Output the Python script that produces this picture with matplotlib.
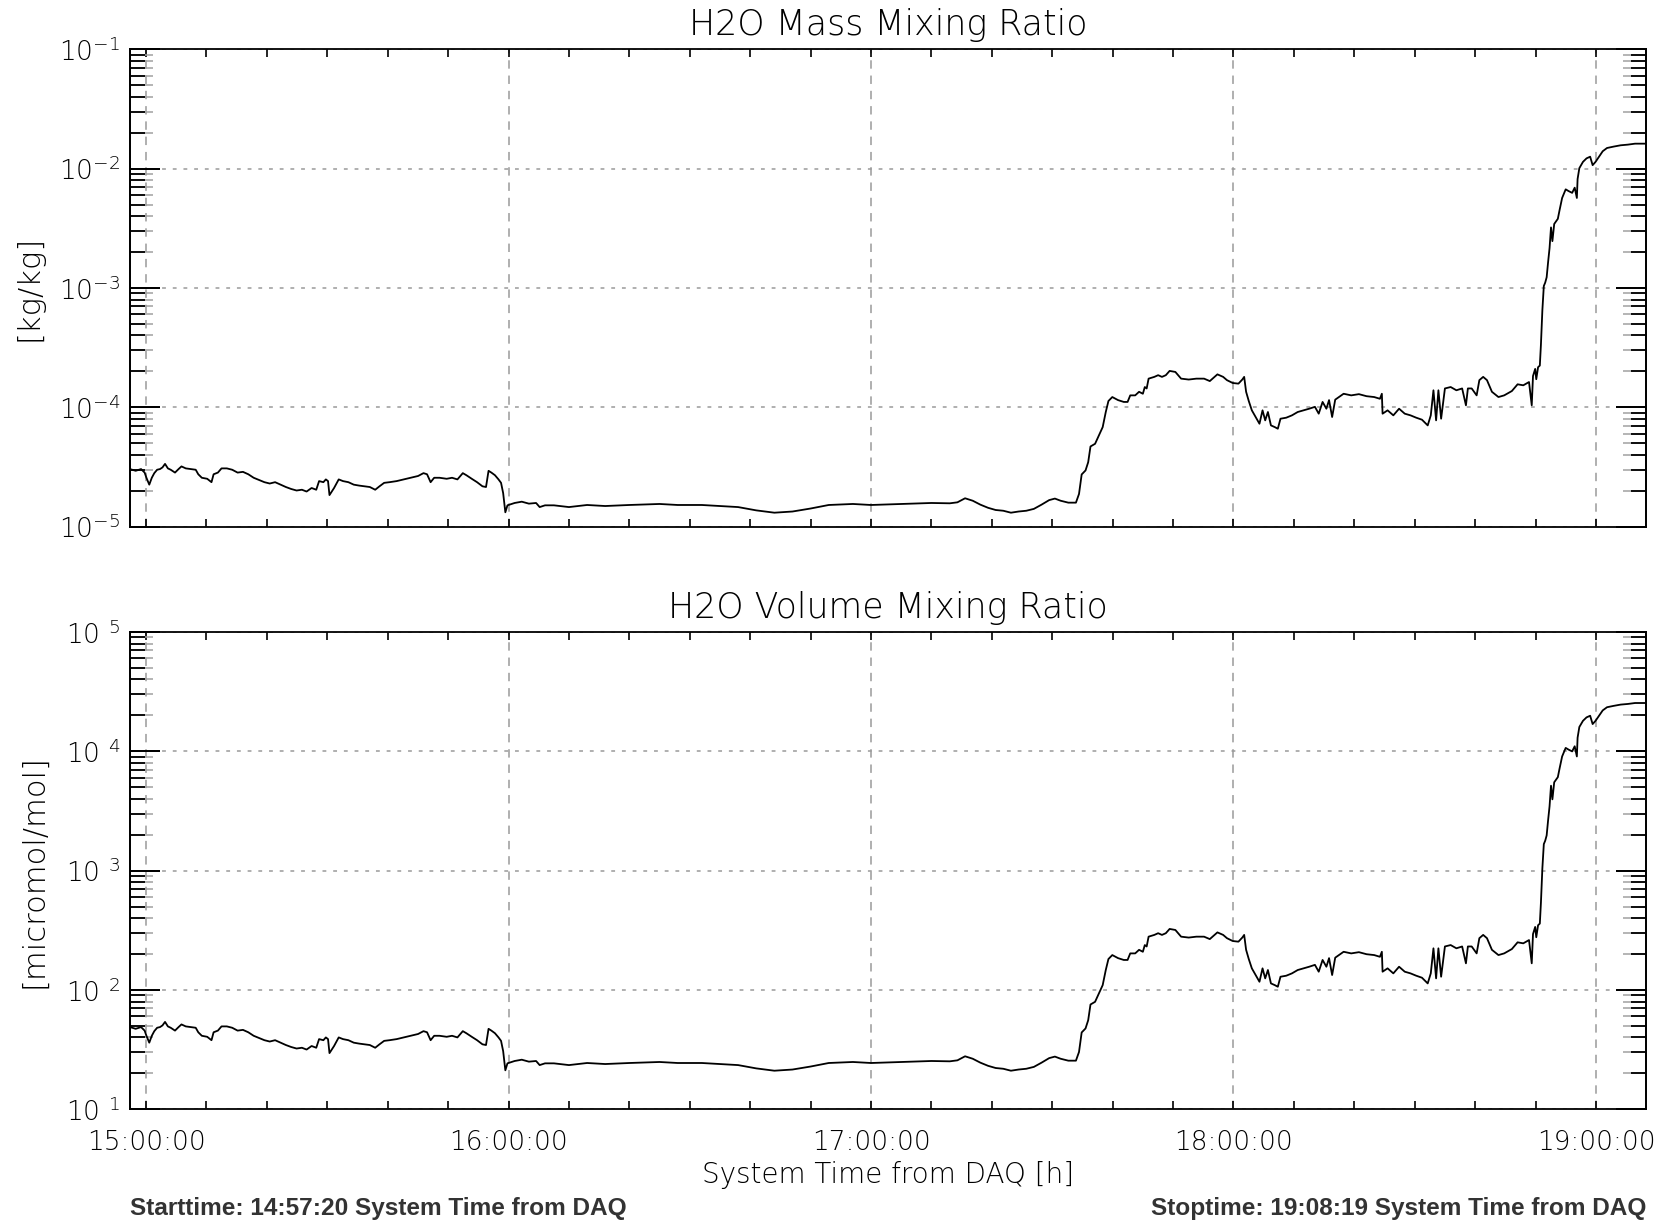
import matplotlib
matplotlib.use('Agg')
import matplotlib.pyplot as plt
from matplotlib.ticker import FixedLocator, FixedFormatter, MultipleLocator, LogLocator, NullFormatter

plt.rcParams['font.family'] = 'DejaVu Sans'
plt.rcParams['font.weight'] = 200
plt.rcParams['axes.titleweight'] = 200
plt.rcParams['axes.labelweight'] = 200
plt.rcParams['mathtext.fontset'] = 'custom'
plt.rcParams['mathtext.rm'] = 'DejaVu Sans:ultralight'

# time in minutes after 15:00:00
t_min = [
    -2.67, -1.72, -0.83, -0.24, 0.06, 0.53, 0.95, 1.36, 1.83, 2.31,
    2.72, 3.14, 3.61, 4.08, 4.79, 5.38, 5.86, 6.57, 7.46, 8.22,
    8.64, 9.23, 10.12, 10.83, 11.18, 11.89, 12.49, 13.37, 14.26, 15.15,
    16.04, 16.92, 17.81, 18.70, 19.59, 20.47, 21.36, 22.25, 23.14, 24.02,
    24.91, 25.80, 26.57, 27.40, 28.17, 28.64, 29.35, 29.76, 30.12, 30.36,
    31.12, 31.89, 32.60, 33.49, 34.38, 35.27, 36.15, 37.04, 37.93, 38.64,
    39.41, 40.30, 41.48, 42.66, 43.85, 45.03, 45.92, 46.51, 47.10, 47.69,
    48.58, 49.76, 50.65, 51.54, 52.43, 53.02, 53.91, 54.79, 55.68, 56.27,
    56.69, 57.16, 57.75, 58.34, 58.76, 59.11, 59.47, 59.82, 61.01, 62.19,
    63.37, 64.56, 65.15, 66.04, 67.51,
    70, 73, 76, 80, 85, 88, 92, 95, 98, 101,
    104, 107, 110, 113, 117, 120, 125, 130,
    133.04, 134.30, 135.57, 136.84, 138.10, 139.37, 140.63, 141.90, 143.16, 144.43,
    145.70, 146.96, 148.23, 149.49, 150.44, 151.39, 152.66, 153.92, 154.43, 154.87,
    155.51, 155.95, 156.33, 157.09, 157.85, 158.35, 158.86, 159.30, 159.94, 160.89,
    161.84, 162.47, 162.91, 163.73, 164.37, 165.00, 165.32, 165.63, 165.95, 166.90,
    167.53, 168.16, 168.80, 169.43, 170.38, 171.33, 172.59, 173.86, 175.13, 176.08,
    177.34, 178.29, 178.92, 179.87, 180.82, 181.46, 181.77, 182.09, 182.53, 183.04,
    183.67, 184.30, 184.81, 185.25, 185.70, 186.20, 186.84, 187.34, 187.78, 188.73,
    189.68, 190.63, 191.58, 192.53, 193.48, 194.11, 194.75, 195.38, 195.82, 196.33,
    196.84, 198.23, 199.49, 200.76, 202.03, 203.29, 204.24, 204.56, 204.68, 205.51,
    206.46, 207.41, 208.35, 209.30, 210.25, 211.20, 212.15, 212.66, 213.10, 213.54,
    213.92, 214.37, 215.00, 215.95, 216.90, 217.85, 218.48, 218.80, 219.43, 220.25,
    220.70, 221.33, 221.96, 222.78, 223.86, 224.81, 226.08, 227.03, 227.97, 228.92,
    229.37, 229.56,
    229.58, 229.94, 230.12, 230.42, 230.71, 230.89, 231.13, 231.37, 231.60, 231.84,
    232.08, 232.32, 232.56, 232.79, 233.09, 233.69, 233.98, 234.40, 234.99, 235.47,
    236.06, 236.48, 236.84, 236.96, 237.25, 237.85, 238.44, 239.04, 239.45, 239.93,
    240.52, 241.12, 241.83, 242.90, 244.09, 245.28, 246.47, 247.36, 248.25,
]

# H2O mass mixing ratio [kg/kg]
h2o_mmr = [
    3.04e-5, 2.94e-5, 3.04e-5, 2.84e-5, 2.57e-5, 2.25e-5, 2.57e-5, 2.81e-5, 3.00e-5, 3.04e-5,
    3.14e-5, 3.36e-5, 3.08e-5, 3.00e-5, 2.84e-5, 3.04e-5, 3.20e-5, 3.08e-5, 3.04e-5, 3.00e-5,
    2.75e-5, 2.57e-5, 2.52e-5, 2.36e-5, 2.75e-5, 2.84e-5, 3.08e-5, 3.08e-5, 3.00e-5, 2.84e-5,
    2.88e-5, 2.75e-5, 2.57e-5, 2.46e-5, 2.36e-5, 2.30e-5, 2.36e-5, 2.25e-5, 2.15e-5, 2.07e-5,
    2.01e-5, 2.04e-5, 1.97e-5, 2.11e-5, 2.04e-5, 2.41e-5, 2.36e-5, 2.49e-5, 2.41e-5, 1.84e-5,
    2.11e-5, 2.49e-5, 2.41e-5, 2.36e-5, 2.25e-5, 2.21e-5, 2.18e-5, 2.15e-5, 2.04e-5, 2.18e-5,
    2.33e-5, 2.36e-5, 2.41e-5, 2.49e-5, 2.57e-5, 2.66e-5, 2.81e-5, 2.75e-5, 2.36e-5, 2.57e-5,
    2.57e-5, 2.52e-5, 2.57e-5, 2.49e-5, 2.81e-5, 2.70e-5, 2.52e-5, 2.36e-5, 2.18e-5, 2.15e-5,
    2.94e-5, 2.84e-5, 2.70e-5, 2.49e-5, 2.33e-5, 1.91e-5, 1.32e-5, 1.51e-5, 1.58e-5, 1.62e-5,
    1.56e-5, 1.58e-5, 1.46e-5, 1.51e-5, 1.51e-5,
    1.46e-5, 1.52e-5, 1.49e-5, 1.52e-5, 1.55e-5, 1.52e-5, 1.52e-5, 1.49e-5, 1.46e-5, 1.37e-5,
    1.31e-5, 1.34e-5, 1.42e-5, 1.52e-5, 1.55e-5, 1.52e-5, 1.55e-5, 1.58e-5,
    1.57e-5, 1.60e-5, 1.73e-5, 1.65e-5, 1.53e-5, 1.44e-5, 1.38e-5, 1.36e-5, 1.31e-5, 1.34e-5,
    1.36e-5, 1.41e-5, 1.53e-5, 1.67e-5, 1.72e-5, 1.65e-5, 1.59e-5, 1.59e-5, 1.88e-5, 2.74e-5,
    2.96e-5, 3.47e-5, 4.70e-5, 4.95e-5, 6.01e-5, 6.83e-5, 9.14e-5, 1.13e-4, 1.22e-4, 1.15e-4,
    1.11e-4, 1.11e-4, 1.26e-4, 1.26e-4, 1.35e-4, 1.30e-4, 1.48e-4, 1.44e-4, 1.74e-4, 1.80e-4,
    1.86e-4, 1.80e-4, 1.86e-4, 2.02e-4, 1.98e-4, 1.74e-4, 1.71e-4, 1.74e-4, 1.74e-4, 1.66e-4,
    1.89e-4, 1.80e-4, 1.69e-4, 1.60e-4, 1.58e-4, 1.71e-4, 1.80e-4, 1.35e-4, 1.13e-4, 9.44e-5,
    8.30e-5, 7.29e-5, 9.44e-5, 7.78e-5, 9.14e-5, 7.06e-5, 6.83e-5, 6.62e-5, 8.03e-5, 8.19e-5,
    8.57e-5, 9.14e-5, 9.44e-5, 9.74e-5, 1.01e-4, 8.85e-5, 1.11e-4, 9.74e-5, 1.15e-4, 8.30e-5,
    1.16e-4, 1.30e-4, 1.26e-4, 1.29e-4, 1.24e-4, 1.22e-4, 1.18e-4, 1.30e-4, 8.85e-5, 9.44e-5,
    8.57e-5, 9.74e-5, 8.85e-5, 8.57e-5, 8.19e-5, 7.88e-5, 7.06e-5, 8.57e-5, 1.39e-4, 7.78e-5,
    1.39e-4, 8.03e-5, 1.44e-4, 1.48e-4, 1.39e-4, 1.44e-4, 1.04e-4, 1.44e-4, 1.44e-4, 1.26e-4,
    1.69e-4, 1.80e-4, 1.69e-4, 1.35e-4, 1.22e-4, 1.26e-4, 1.37e-4, 1.56e-4, 1.53e-4, 1.63e-4,
    1.04e-4, 1.69e-4,
    1.83e-4, 2.10e-4, 1.72e-4, 2.17e-4, 2.24e-4, 3.34e-4, 6.51e-4, 1.04e-3, 1.11e-3, 1.23e-3,
    1.65e-3, 2.16e-3, 3.22e-3, 2.47e-3, 3.44e-3, 3.80e-3, 4.50e-3, 5.68e-3, 6.71e-3, 6.49e-3,
    6.27e-3, 6.93e-3, 5.68e-3, 8.19e-3, 1.01e-2, 1.14e-2, 1.22e-2, 1.26e-2, 1.07e-2, 1.14e-2,
    1.26e-2, 1.40e-2, 1.49e-2, 1.53e-2, 1.57e-2, 1.59e-2, 1.62e-2, 1.62e-2, 1.62e-2,
]

# same measurement as volume mixing ratio [micromol/mol] (unit conversion, Mw/Md)
eps = 18.015 / 28.964
h2o_vmr = [1e6 * r / (r + eps) for r in h2o_mmr]

t_start = -(2 + 40 / 60)   # 14:57:20
t_stop = 248 + 19 / 60     # 19:08:19
hour_ticks = [0, 60, 120, 180, 240]
hour_labels = ['15:00:00', '16:00:00', '17:00:00', '18:00:00', '19:00:00']

mmr_ticks = [1e-5, 1e-4, 1e-3, 1e-2, 1e-1]
mmr_labels = [r'$10^{-5}$', r'$10^{-4}$', r'$10^{-3}$', r'$10^{-2}$', r'$10^{-1}$']
vmr_ticks = [1e1, 1e2, 1e3, 1e4, 1e5]
vmr_labels = [r'$10\ {}^{1}$', r'$10\ {}^{2}$', r'$10\ {}^{3}$', r'$10\ {}^{4}$', r'$10\ {}^{5}$']

GRID = '#9a9a9a'


def style_axes(ax, yticks, ylabels, title, ylabel, ylabel_x):
    ax.set_yscale('log')
    ax.set_ylim(yticks[0], yticks[-1])
    ax.set_xlim(t_start, t_stop)
    ax.xaxis.set_major_locator(FixedLocator(hour_ticks))
    ax.xaxis.set_major_formatter(FixedFormatter(hour_labels))
    ax.xaxis.set_minor_locator(MultipleLocator(10))
    ax.yaxis.set_major_locator(FixedLocator(yticks))
    ax.yaxis.set_major_formatter(FixedFormatter(ylabels))
    ax.yaxis.set_minor_locator(LogLocator(base=10, subs=range(2, 10)))
    ax.yaxis.set_minor_formatter(NullFormatter())

    ax.grid(True, axis='x', which='major', color=GRID, lw=1.1, linestyle=(0, (5.5, 4.5)))
    ax.grid(True, axis='y', which='major', color=GRID, lw=1.1, linestyle=(0, (2.5, 4.5)))

    ax.tick_params(axis='x', which='both', direction='in', top=True, bottom=True,
                   length=6, width=1.2, labelsize=19, pad=15)
    ax.tick_params(axis='y', which='major', direction='in', left=True, right=True,
                   length=21.6, width=1.3, labelsize=19, pad=7)
    ax.tick_params(axis='y', which='minor', direction='in', left=True, right=True,
                   length=16.6, width=1.1, color='#a0a0a0')
    for s in ax.spines.values():
        s.set_linewidth(1.3)

    # black inner part of the minor ticks
    for side in ('left', 'right'):
        sec = ax.secondary_yaxis(side)
        sec.set_zorder(3)
        sec.tick_params(which='major', direction='in', length=21.6, width=1.3)
        sec.tick_params(which='minor', direction='in', length=10.8, width=1.3, color='black')
        sec.tick_params(labelleft=False, labelright=False)
        sec.spines[side].set_linewidth(1.3)

    ax.set_title(title, fontsize=25, pad=10)
    ax.set_ylabel(ylabel, fontsize=22, va='center', ha='center')
    ax.yaxis.set_label_coords(ylabel_x, 0.5)


fig = plt.figure(figsize=(16.64, 12.24), dpi=100)
ax_m = fig.add_axes([0.0781, 0.5697, 0.9112, 0.3900])
ax_v = fig.add_axes([0.0781, 0.0937, 0.9112, 0.3900])

ax_m.plot(t_min, h2o_mmr, color='black', lw=1.3)
ax_v.plot(t_min, h2o_vmr, color='black', lw=1.3)

style_axes(ax_m, mmr_ticks, mmr_labels, 'H2O Mass Mixing Ratio', '[kg/kg]', -0.0666)
style_axes(ax_v, vmr_ticks, vmr_labels, 'H2O Volume Mixing Ratio', '[micromol/mol]', -0.0633)

ax_m.tick_params(axis='x', labelbottom=False)
ax_v.set_xlabel('System Time from DAQ [h]', fontsize=20)
ax_v.xaxis.set_label_coords(0.5, -0.108)

fig.text(130 / 1664, 1 - 1209 / 1224, 'Starttime: 14:57:20 System Time from DAQ',
         family='Liberation Sans', fontweight='bold', fontsize=17.6, color='#333333',
         ha='left', va='center')
fig.text(1646 / 1664, 1 - 1209 / 1224, 'Stoptime: 19:08:19 System Time from DAQ',
         family='Liberation Sans', fontweight='bold', fontsize=17.6, color='#333333',
         ha='right', va='center')

fig.savefig('out.png', dpi=100)
